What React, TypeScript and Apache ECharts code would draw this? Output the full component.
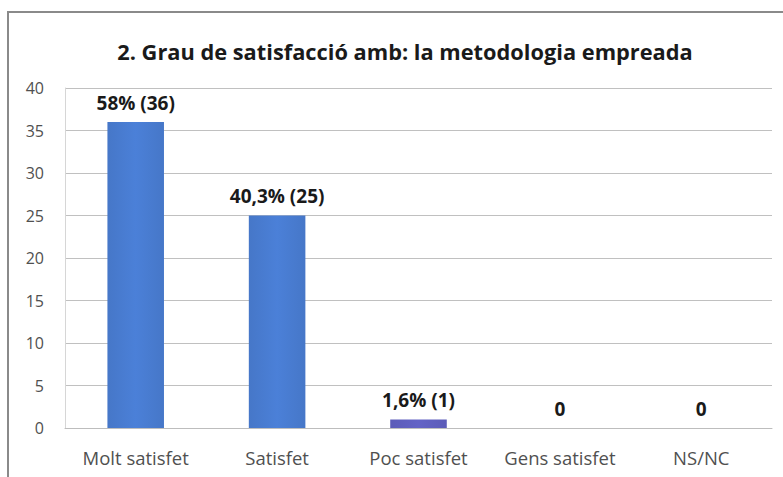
import React, { useEffect, useRef } from "react";
import * as echarts from "echarts";

const categories = ["Molt satisfet", "Satisfet", "Poc satisfet", "Gens satisfet", "NS/NC"];
const values = [36, 25, 1, 0, 0];
const valueLabels = ["58% (36)", "40,3% (25)", "1,6% (1)", "0", "0"];
const barColors = ["#4677c8", "#4677c8", "#5c5cb8", "#4677c8", "#4677c8"];
const titleText = "2. Grau de satisfacció amb: la metodologia empreada";

export default function App() {
  const ref = useRef<HTMLDivElement>(null);
  useEffect(() => {
    if (!ref.current) return;
    const chart = echarts.init(ref.current, undefined, { renderer: "svg" });
    const grad = (c: string) =>
      new echarts.graphic.LinearGradient(0, 0, 1, 0, [
        { offset: 0, color: c },
        { offset: 0.5, color: echarts.color.lift(c, -0.08) },
        { offset: 1, color: c },
      ]);
    chart.setOption({
      animation: false,
      backgroundColor: "#ffffff",
      title: {
        text: titleText,
        left: 400,
        top: 35,
        textAlign: "center",
        textStyle: {
          fontFamily: "Open Sans",
          fontWeight: "bold",
          fontSize: 21.8,
          color: "#1a1a1a",
        },
      },
      graphic: [
        {
          type: "rect",
          shape: { x: 8, y: 12, width: 800, height: 520 },
          style: { fill: "none", stroke: "#8a8a8a", lineWidth: 2 },
          silent: true,
        },
      ],
      grid: { left: 65, right: 11, top: 88, bottom: 49, containLabel: false },
      xAxis: {
        type: "category",
        data: categories,
        axisLine: { show: true, lineStyle: { color: "#bdbdbd" } },
        axisTick: { show: false },
        axisLabel: {
          interval: 0,
          hideOverlap: false,
          fontFamily: "Open Sans",
          fontSize: 18.5,
          color: "#505050",
          margin: 20,
        },
      },
      yAxis: {
        type: "value",
        min: 0,
        max: 40,
        interval: 5,
        axisLine: { show: true, lineStyle: { color: "#d6d6d6" } },
        axisTick: { show: false },
        splitLine: { lineStyle: { color: "#c0c0c0" } },
        axisLabel: {
          fontFamily: "Open Sans",
          fontSize: 16,
          color: "#505050",
          margin: 21,
        },
      },
      series: [
        {
          type: "bar",
          barWidth: "40%",
          data: values.map((v, i) => ({
            value: v,
            itemStyle: { color: grad(barColors[i]) },
            label: {
              show: true,
              position: "top",
              distance: 10,
              formatter: valueLabels[i],
              fontFamily: "Open Sans",
              fontWeight: "bold",
              fontSize: 19,
              color: "#1a1a1a",
            },
          })),
        },
      ],
    });
    return () => chart.dispose();
  }, []);
  return (
    <div
      ref={ref}
      style={{ position: "fixed", left: 0, top: 0, width: 783, height: 477 }}
    />
  );
}
